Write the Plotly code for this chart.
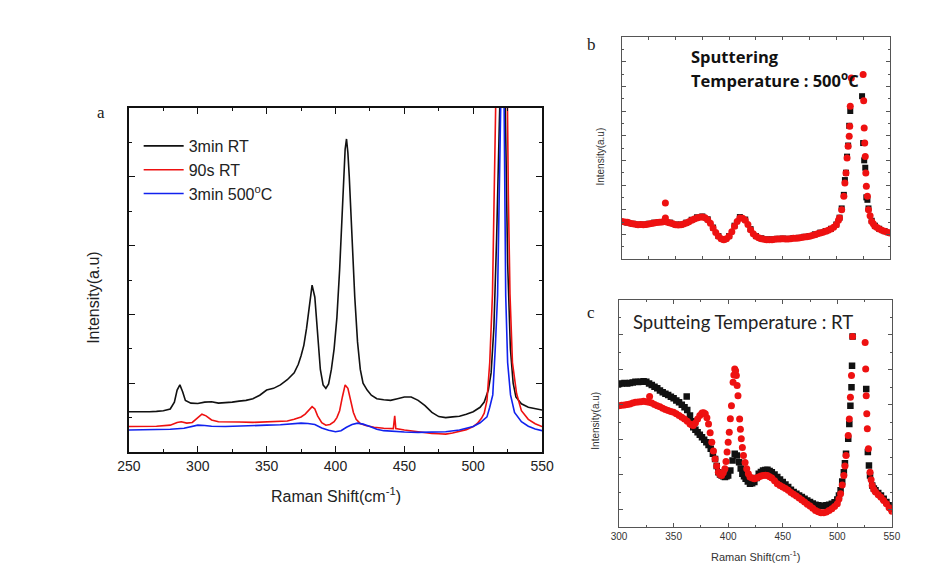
import plotly.graph_objects as go

# ---------------- Panel a data ----------------
a_x_black = [250,255,260,265,270,275,280,283,285,287,289,291,295,300,305,310,315,320,325,330,335,340,345,350,355,360,365,370,373,375,377,379,381,383,385,387,389,391,393,395,397,399,401,403,405,407,408,409,410,412,414,416,418,420,423,426,430,435,440,445,450,455,460,465,470,475,480,485,490,495,500,505,508,511,513,515,517,519,520.5,522,523.5,525,527,529,531,535,540,545,550]
a_y_black = [1.17,1.17,1.15,1.17,1.18,1.20,1.25,1.45,1.8,1.95,1.75,1.5,1.42,1.41,1.45,1.46,1.42,1.43,1.45,1.48,1.5,1.55,1.65,1.8,1.85,1.95,2.1,2.3,2.55,2.8,3.1,3.6,4.25,4.85,4.5,3.4,2.4,1.95,1.85,1.98,2.4,3.0,3.9,5.3,7.1,8.8,9.1,8.7,8.0,6.2,4.5,3.2,2.4,2.0,1.8,1.65,1.55,1.52,1.5,1.55,1.6,1.6,1.5,1.35,1.15,1.03,1.0,1.02,1.04,1.1,1.17,1.3,1.45,1.8,2.3,3.6,6.2,9.6,14,14,9.5,5.5,3.0,2.0,1.6,1.4,1.3,1.25,1.22]

a_x_red = [250,260,270,280,285,288,292,296,300,303,306,310,315,320,330,340,350,360,365,370,375,378,381,383,385,387,390,393,396,399,401,403,405,407,409,411,413,415,418,422,428,435,442,443,443.8,450,455,460,465,470,475,480,485,490,495,500,503,506,508,510,512,514,515.3,516.5,518,523,524.8,525.5,526.7,528.5,531.5,535,540,545,550]
a_y_red = [0.74,0.74,0.75,0.78,0.86,0.88,0.84,0.86,1.0,1.1,1.05,0.93,0.88,0.87,0.87,0.86,0.87,0.88,0.9,0.95,1.02,1.1,1.25,1.32,1.25,1.05,0.85,0.78,0.8,0.88,1.0,1.2,1.6,1.95,1.85,1.5,1.15,0.95,0.83,0.77,0.72,0.69,0.68,1.05,0.68,0.64,0.61,0.59,0.56,0.54,0.53,0.52,0.55,0.59,0.65,0.74,0.83,0.98,1.13,1.5,2.6,4.6,7.4,10.3,14,14,10.3,7.5,4.6,2.6,1.7,1.2,0.95,0.82,0.74]

a_x_blue = [250,260,270,280,290,295,300,305,310,320,330,340,350,360,370,375,380,385,390,395,400,404,408,412,416,420,425,430,435,440,450,460,470,480,490,495,500,505,510,512,514.2,516,517.7,518.9,519.6,520.4,521.6,522.4,523.1,523.6,525,527.1,530,535,540,545,550]
a_y_blue = [0.64,0.64,0.64,0.66,0.69,0.74,0.78,0.77,0.75,0.74,0.76,0.77,0.78,0.79,0.82,0.84,0.83,0.8,0.7,0.63,0.59,0.62,0.72,0.8,0.84,0.81,0.74,0.66,0.62,0.6,0.58,0.57,0.57,0.59,0.64,0.68,0.74,0.85,1.02,1.3,1.66,3.0,4.56,7.47,10.5,14,14,10.3,7.47,4.56,2.6,1.66,1.15,0.88,0.75,0.67,0.62]

a_names = ["3min RT", "90s RT", "3min 500<sup>o</sup>C"]

# ---------------- Panel b data ----------------
b_x_red = [300,302.5,305,307.5,310,312.5,315,317.5,320,322.5,325,327.5,330,332.5,335,337.5,340,340.5,340.5,342.5,345,347.5,350,352.5,355,357.5,360,362.5,365,367.5,370,372.5,375,377.5,380,382.5,385,387.5,390,392.5,395,397.5,400,402.5,405,407.5,410,412.5,415,417.5,420,422.5,425,427.5,430,432.5,435,437.5,440,442.5,445,447.5,450,452.5,455,457.5,460,462.5,465,467.5,470,472.5,475,477.5,480,482.5,485,487.5,490,492.5,495,497.5,500,502,503,505,507,508,509,510,511,512,512.5,513,514,525,525.5,526,526.5,527,527.5,528,529,530,531.5,533,534.5,536,538,540,542.5,545,547.5,550]
b_y_red = [3.05,3.0,2.97,2.9,2.86,2.82,2.78,2.8,2.78,2.8,2.84,2.88,2.92,2.95,2.97,3.0,3.05,3.32,4.54,2.98,2.92,2.85,2.78,2.76,2.78,2.84,2.92,3.02,3.14,3.24,3.32,3.38,3.41,3.35,3.19,2.9,2.51,2.15,1.84,1.65,1.57,1.65,1.84,2.2,2.65,3.05,3.32,3.3,3.14,2.8,2.38,2.05,1.84,1.72,1.65,1.6,1.57,1.56,1.57,1.6,1.62,1.63,1.65,1.63,1.62,1.65,1.68,1.69,1.70,1.74,1.78,1.8,1.84,1.9,1.97,2.04,2.11,2.17,2.24,2.33,2.43,2.58,2.78,3.15,3.32,4.0,5.08,6.16,6.97,8.19,9.14,9.95,10.76,12.38,14.68,14.95,12.84,10.62,9.4,8.32,6.97,5.89,5.08,4.0,3.5,3.05,2.85,2.65,2.55,2.43,2.33,2.24,2.17,2.11]

b_x_black = [300,305,310,315,320,325,330,335,340,345,350,355,360,365,370,375,380,385,390,395,400,405,410,415,420,425,430,435,440,445,450,455,460,465,470,475,480,485,490,495,500,503,505,507,508,509,510,511,512,513,524,525,526,527,528,529,530,533,536,540,545,550]
b_y_black = [3.0,2.95,2.86,2.8,2.8,2.86,2.95,3.0,3.02,2.95,2.8,2.8,2.95,3.18,3.38,3.45,3.22,2.55,1.86,1.6,1.86,2.7,3.4,3.2,2.42,1.86,1.68,1.6,1.6,1.64,1.66,1.64,1.7,1.72,1.8,1.86,2.0,2.14,2.26,2.45,2.8,3.35,4.1,5.2,6.4,7.0,8.3,9.2,10.8,12.0,13.2,9.4,8.0,7.4,5.0,4.8,4.1,3.1,2.7,2.45,2.26,2.12]

# ---------------- Panel c data ----------------
c_x_black = [300,302.5,305,307.5,310,312.5,315,317.5,320,322.5,325,327.5,330,332.5,335,337.5,340,342.5,345,347.5,350,352.5,355,357.5,360,362,362.5,365,366.5,368,370,372,374,376,378,380,382,384,386,388,389.5,391,392.5,394,395.5,397,398.5,400,402,404,406,408,410,411.5,413,414.5,416,418,420,422,424,426,428,430,432,434,436,438,440,442.5,445,447.5,450,452.5,455,457.5,460,462.5,465,467.5,470,472.5,475,477.5,480,482.5,485,487.5,490,492.5,495,497.5,500,501.5,503,504.5,506,507,508,510,511,512,513,513.5,514,526.5,528,529,530,532,533.5,535,537.5,540,542.5,545,547.5,550]
c_y_black = [8.19,8.22,8.25,8.22,8.25,8.28,8.32,8.3,8.32,8.34,8.32,8.22,8.13,8.03,7.94,7.82,7.71,7.63,7.56,7.46,7.37,7.25,7.14,7.0,6.86,7.47,6.7,6.38,6.05,5.71,5.57,5.43,5.28,5.14,5.0,4.86,4.7,4.48,4.2,3.9,3.5,3.14,3.0,2.95,2.9,2.86,2.9,2.95,3.24,3.81,4.19,4.1,3.71,3.35,3.05,2.9,2.76,2.6,2.48,2.5,2.57,2.8,3.05,3.15,3.24,3.27,3.28,3.2,3.14,3.0,2.86,2.72,2.57,2.43,2.29,2.14,2.0,1.9,1.81,1.72,1.62,1.52,1.43,1.35,1.28,1.24,1.2,1.22,1.24,1.28,1.33,1.42,1.58,1.8,2.1,2.6,3.14,3.65,4.19,5.05,5.9,6.95,8.0,9.24,10.91,7.9,4.29,3.52,2.95,2.38,2.2,2.1,1.95,1.81,1.62,1.43,1.24,1.05]

c_x_red = [300,302.5,305,307.5,310,312.5,315,317.5,320,322.5,325,327.5,328,330,332.5,335,337.5,340,342.5,345,347.5,350,352.5,355,357.5,360,362.5,365,366.5,368,370,372,374,376,377.5,379,380.5,382,383.5,385,386.5,388,389.5,391,392.5,394,395.5,397,398,399,400,401,402,403,404.5,405.2,406,406.8,407.5,408.2,409,410.5,411.2,412,413,414,415.5,417,418.5,420,422,424,426,428,430,432,434,436,438,440,442.5,445,447.5,450,452.5,455,457.5,460,462.5,465,467.5,470,472.5,475,477.5,480,482.5,485,487.5,490,492.5,495,497.5,500,501.5,503,504.5,506,507,508,510,511,512,513,514,525.5,526,526.5,527,527.5,528.5,530,531,532,533.5,535,537.5,540,542.5,545,547.5,550]
c_y_red = [6.95,6.97,6.99,7.02,7.05,7.1,7.14,7.16,7.18,7.2,7.18,7.14,7.47,7.1,7.02,6.95,6.88,6.8,6.73,6.67,6.62,6.57,6.48,6.38,6.28,6.19,6.05,5.9,5.85,5.81,5.95,6.19,6.38,6.53,6.55,6.48,6.25,5.9,5.4,4.86,4.35,3.9,3.5,3.14,3.0,2.95,3.1,3.33,3.75,4.29,4.85,5.43,6.2,6.95,8.29,8.7,9.05,8.95,8.67,8.1,7.52,6.19,5.6,5.05,4.55,4.1,3.7,3.33,3.05,2.86,2.8,2.76,2.8,2.86,2.92,2.95,2.96,2.95,2.88,2.8,2.65,2.48,2.38,2.29,2.2,2.1,1.98,1.87,1.77,1.66,1.55,1.43,1.31,1.2,1.07,0.95,0.88,0.82,0.82,0.86,0.95,1.05,1.18,1.33,1.6,1.9,2.4,2.95,3.5,4.1,5.24,6.19,7.43,8.67,10.91,10.57,9.05,7.52,6.48,5.62,4.48,3.14,2.7,2.38,2.15,2.0,1.85,1.71,1.52,1.33,1.1,0.9]

# ---------------- Figure ----------------
W, H = 937, 563
def px(x): return x / W
def py(y): return 1 - y / H

SANS = "Liberation Sans, Arial, sans-serif"
fig = go.Figure()

for xs, ys, name, col in [(a_x_black, a_y_black, a_names[0], "#111111"),
                          (a_x_red, a_y_red, a_names[1], "#ee1111"),
                          (a_x_blue, a_y_blue, a_names[2], "#1122ee")]:
    fig.add_trace(go.Scatter(x=xs, y=ys, mode="lines", name=name,
                             line=dict(color=col, width=1.6), xaxis="x", yaxis="y"))

fig.add_trace(go.Scatter(x=b_x_black, y=b_y_black, mode="markers", showlegend=False,
                         marker=dict(symbol="square", size=6, color="#111111"), xaxis="x2", yaxis="y2"))
fig.add_trace(go.Scatter(x=b_x_red, y=b_y_red, mode="markers", showlegend=False,
                         marker=dict(symbol="circle", size=7, color="#ee1111"), xaxis="x2", yaxis="y2"))
fig.add_trace(go.Scatter(x=c_x_black, y=c_y_black, mode="markers", showlegend=False,
                         marker=dict(symbol="square", size=6.5, color="#111111"), xaxis="x3", yaxis="y3"))
fig.add_trace(go.Scatter(x=c_x_red, y=c_y_red, mode="markers", showlegend=False,
                         marker=dict(symbol="circle", size=7, color="#ee1111"), xaxis="x3", yaxis="y3"))

common = dict(showgrid=False, zeroline=False, showline=True, mirror="allticks", ticks="inside")

fig.update_layout(
    width=W, height=H, margin=dict(l=0, r=0, t=0, b=0),
    paper_bgcolor="white", plot_bgcolor="white",
    font=dict(family=SANS, color="#222222"),
    showlegend=True,
    legend=dict(x=px(130), y=py(129), xanchor="left", yanchor="top",
                bgcolor="rgba(0,0,0,0)", font=dict(size=16, family=SANS, color="#222222"),
                tracegroupgap=0, itemwidth=40),
    xaxis=dict(domain=[px(120), px(544)], range=[250, 550], anchor="y", dtick=50, tick0=250,
               linecolor="#111111", linewidth=1.5, ticklen=6, tickcolor="#111111",
               tickfont=dict(size=14, family=SANS, color="#222222"),
               minor=dict(dtick=25, ticklen=3, ticks="inside", tickcolor="#111111"), **common),
    yaxis=dict(domain=[py(452), py(108)], range=[0, 10], anchor="x", dtick=2, tick0=0,
               showticklabels=False, linecolor="#111111", linewidth=1.5, ticklen=6, tickcolor="#111111",
               minor=dict(dtick=1, ticklen=3, ticks="inside", tickcolor="#111111"), **common),
    xaxis2=dict(domain=[px(626), px(901)], range=[300, 550], anchor="y2", dtick=25, tick0=300,
                showticklabels=False, linecolor="#555555", linewidth=1, ticklen=3, tickcolor="#555555", **common),
    yaxis2=dict(domain=[py(259), py(37)], range=[0, 18], anchor="x2", dtick=2, tick0=0,
                showticklabels=False, linecolor="#555555", linewidth=1, ticklen=4, tickcolor="#555555",
                minor=dict(dtick=1, ticklen=2, ticks="inside", tickcolor="#555555"), **common),
    xaxis3=dict(domain=[px(623), px(903)], range=[300, 550], anchor="y3", dtick=50, tick0=300,
                linecolor="#555555", linewidth=1, ticklen=4, tickcolor="#555555",
                tickfont=dict(size=10, family=SANS, color="#333333"),
                minor=dict(dtick=25, ticklen=2, ticks="inside", tickcolor="#555555"), **common),
    yaxis3=dict(domain=[py(527), py(300)], range=[0, 13], anchor="x3", dtick=2, tick0=1,
                showticklabels=False, linecolor="#555555", linewidth=1, ticklen=4, tickcolor="#555555",
                minor=dict(dtick=1, tick0=0, ticklen=2, ticks="inside", tickcolor="#555555"), **common),
)

ann = [
    dict(x=px(91), y=py(112), text="a", font=dict(family="Liberation Serif, serif", size=17, color="#222")),
    dict(x=px(595), y=py(45), text="b", font=dict(family="Liberation Serif, serif", size=17, color="#222")),
    dict(x=px(594), y=py(312), text="c", font=dict(family="Liberation Serif, serif", size=17, color="#222")),
    dict(x=px(333), y=py(495), text="Raman Shift(cm<sup>-1</sup>)", font=dict(size=16, family=SANS, color="#222")),
    dict(x=px(83), y=py(298), text="Intensity(a.u)", textangle=-90, font=dict(size=16, family=SANS, color="#222")),
    dict(x=px(603), y=py(157), text="Intensity(a.u)", textangle=-90, font=dict(size=10, family=SANS, color="#333")),
    dict(x=px(598), y=py(421), text="Intensity(a.u)", textangle=-90, font=dict(size=10, family=SANS, color="#333")),
    dict(x=px(763), y=py(556), text="Raman Shift(cm<sup>-1</sup>)", font=dict(size=11, family=SANS, color="#333")),
    dict(x=px(695), y=py(56), text="<b>Sputtering</b>", xanchor="left", font=dict(size=16.5, family="Open Sans, sans-serif", color="#111")),
    dict(x=px(695), y=py(80), text="<b>Temperature : 500<sup>o</sup>C</b>", xanchor="left", font=dict(size=16.5, family="Open Sans, sans-serif", color="#111")),
    dict(x=px(635), y=py(322), text="Sputteing Temperature : RT", xanchor="left", font=dict(size=18.5, family="Lato, sans-serif", color="#222")),
]
for a in ann:
    a.setdefault("xanchor", "center")
    fig.add_annotation(xref="paper", yref="paper", yanchor="middle", showarrow=False, **a)

fig.write_html("out.html")
